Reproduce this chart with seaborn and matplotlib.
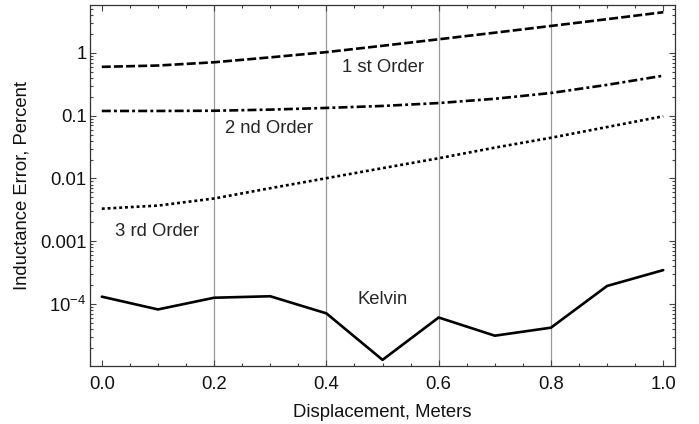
import numpy as np
import pandas as pd
import matplotlib
matplotlib.use('Agg')
import matplotlib.pyplot as plt
import matplotlib.ticker as mticker
import seaborn as sns

# %% data
disp = [0.0, 0.1, 0.2, 0.3, 0.4, 0.5, 0.6, 0.7, 0.8, 0.9, 1.0]
first_order = [0.60, 0.63, 0.71, 0.85, 1.03, 1.30, 1.65, 2.10, 2.69, 3.45, 4.45]
second_order = [0.119, 0.119, 0.120, 0.125, 0.133, 0.143, 0.159, 0.186, 0.230, 0.310, 0.434]
third_order = [0.0033, 0.0037, 0.0048, 0.0070, 0.0101, 0.0146, 0.0210, 0.0310, 0.0445, 0.0660, 0.098]
kelvin = [1.31e-4, 8.2e-5, 1.26e-4, 1.33e-4, 7.1e-5, 1.29e-5, 6.1e-5, 3.13e-5, 4.2e-5, 1.94e-4, 3.47e-4]

ytick_vals = [1e-4, 1e-3, 1e-2, 1e-1, 1]
ytick_labels = ['$\\mathregular{10^{-4}}$', '0.001', '0.01', '0.1', '1']
grid_x = [0.2, 0.4, 0.6, 0.8]

df = pd.DataFrame({'disp': disp, 'first': first_order, 'second': second_order,
                   'third': third_order, 'kelvin': kelvin})

# %%
sns.set_style('ticks')
plt.rcParams['font.family'] = ['Liberation Sans', 'DejaVu Sans']
plt.rcParams['mathtext.fontset'] = 'custom'
plt.rcParams['mathtext.rm'] = 'Liberation Sans'
fs = 13.3
plt.rcParams['font.size'] = fs

fig = plt.figure(figsize=(6.99, 4.24), dpi=100)
ax = fig.add_axes([0.1288, 0.1368, 0.8369, 0.8514])

for gx in grid_x:
    ax.axvline(gx, color='#9a9a9a', lw=0.9, zorder=0)

lw = 1.9
sns.lineplot(data=df, x='disp', y='first', ax=ax, color='black', lw=lw,
             ls=(0, (3.4, 1.2)), dash_capstyle='butt')
sns.lineplot(data=df, x='disp', y='second', ax=ax, color='black', lw=lw,
             ls=(0, (3.4, 1.2, 1.1, 1.2)), dash_capstyle='butt')
sns.lineplot(data=df, x='disp', y='third', ax=ax, color='black', lw=lw,
             ls=(0, (1.1, 1.1)), dash_capstyle='butt')
sns.lineplot(data=df, x='disp', y='kelvin', ax=ax, color='black', lw=lw)

ax.set_yscale('log')
ax.set_xlim(-0.021, 1.021)
ax.set_ylim(1.03e-5, 5.8)

ax.xaxis.set_major_locator(mticker.MultipleLocator(0.2))
ax.xaxis.set_minor_locator(mticker.MultipleLocator(0.05))
ax.xaxis.set_major_formatter(mticker.FormatStrFormatter('%.1f'))
ax.yaxis.set_major_locator(mticker.FixedLocator(ytick_vals))
ax.yaxis.set_major_formatter(mticker.FixedFormatter(ytick_labels))
ax.yaxis.set_minor_locator(mticker.LogLocator(base=10, subs=np.arange(2, 10)))
ax.yaxis.set_minor_formatter(mticker.NullFormatter())

ax.tick_params(which='both', direction='in', top=True, right=True,
               color='#444444', width=0.8, labelsize=fs, labelcolor='#111111')
ax.tick_params(axis='x', pad=7)
ax.tick_params(axis='y', pad=2.5)
ax.tick_params(which='major', length=4.5)
ax.tick_params(which='minor', length=2.5)
for s in ax.spines.values():
    s.set_linewidth(0.9)
    s.set_color('#333333')

ax.text(0.5, 0.577, '1 st Order', ha='center', va='center', fontsize=fs)
ax.text(0.298, 0.062, '2 nd Order', ha='center', va='center', fontsize=fs)
ax.text(0.098, 0.00144, '3 rd Order', ha='center', va='center', fontsize=fs)
ax.text(0.5, 1.16e-4, 'Kelvin', ha='center', va='center', fontsize=fs)

ax.set_xlabel('Displacement, Meters', fontsize=fs, labelpad=8, color='#111111')
ax.set_ylabel('Inductance Error, Percent', fontsize=fs, labelpad=7, color='#111111')

fig.savefig('out.png', dpi=100)
